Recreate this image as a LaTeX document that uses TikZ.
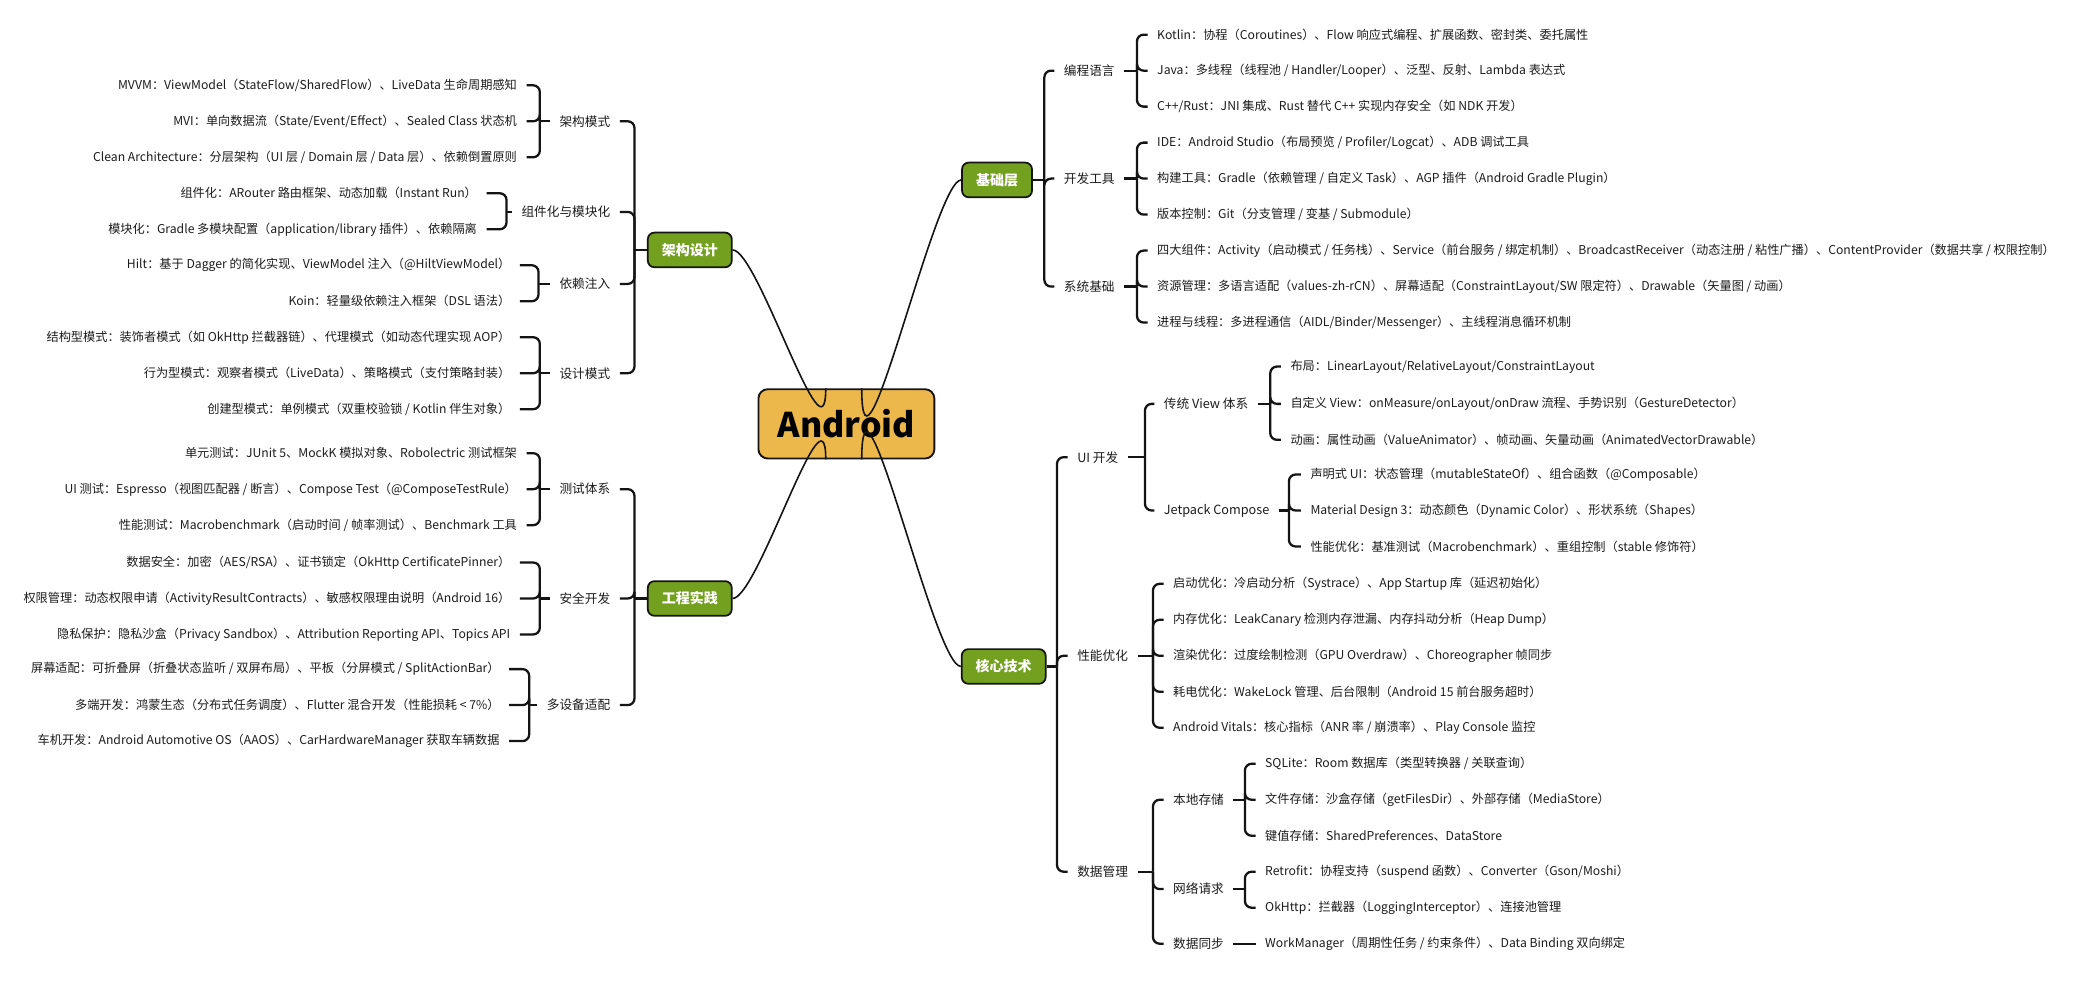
\documentclass[tikz,border=0pt]{standalone}
\usepackage{fontspec}
\setmainfont{Noto Sans CJK SC}
\begin{document}
\begin{tikzpicture}[x=1pt,y=-1pt,
  txt/.style={font=\fontsize{9.15}{11}\selectfont, text=txtc, inner ysep=2pt, inner xsep=7pt},
  leafL/.style={txt, anchor=east},
  leafR/.style={txt, anchor=west},
  mid/.style={txt, font=\fontsize{9.5}{11}\selectfont},
  br/.style={line width=1.7pt, draw=linec, rounded corners=5pt},
  brs/.style={line width=1.7pt, draw=linec},
  curve/.style={line width=1.2pt, draw=linec},
  topic/.style={draw=linec, line width=1.3pt, fill=greenc, rounded corners=5pt, text=white,
     font=\fontsize{10.5}{12}\selectfont\bfseries, minimum height=26pt, inner xsep=10.5pt},
  rootbox/.style={draw=linec, line width=1.4pt, fill=rootc, rounded corners=7pt, text=black,
     font=\fontsize{25.5}{30}\selectfont\bfseries, minimum width=132pt, minimum height=52pt}
]
\definecolor{txtc}{RGB}{28,28,28}
\definecolor{linec}{RGB}{20,20,20}
\definecolor{greenc}{RGB}{116,160,31}
\definecolor{rootc}{RGB}{236,184,75}
\fill[white] (0,0) rectangle (1568,738);
\useasboundingbox (0,0) rectangle (1568,738);

% root and topics
\node[rootbox] (root) at (635,318) {Android};
\node[topic] (jg) at (517.5,187.5) {架构设计};
\node[topic] (gc) at (517.5,449) {工程实践};
\node[topic] (jc) at (748,135) {基础层};
\node[topic] (hx) at (753,500) {核心技术};

\coordinate (rtl) at ([xshift=-15.5pt]root.north);
\coordinate (rtr) at ([xshift=11.5pt]root.north);
\coordinate (rbl) at ([xshift=-15.5pt]root.south);
\coordinate (rbr) at ([xshift=11.5pt]root.south);
\draw[curve] (jg.east) .. controls ([xshift=19pt]jg.east) and ([yshift=-62pt]rtl) .. (rtl);
\draw[curve] (gc.east) .. controls ([xshift=19pt]gc.east) and ([yshift=62pt]rbl) .. (rbl);
\draw[curve] (jc.west) .. controls ([xshift=-20pt]jc.west) and ([yshift=-93pt]rtr) .. (rtr);
\draw[curve] (hx.west) .. controls ([xshift=-20pt]hx.west) and ([yshift=92pt]rbr) .. (rbr);

% ================= LEFT: 架构设计 =================
\node[mid, anchor=east] (m1) at (465,91) {架构模式};
\node[mid, anchor=east] (m2) at (465,159) {组件化与模块化};
\node[mid, anchor=east] (m3) at (465,213) {依赖注入};
\node[mid, anchor=east] (m4) at (465,280) {设计模式};
\coordinate (VJ) at (476,0);
\draw[brs] (jg.west) -- (jg.west -| VJ);
\foreach \c in {m1,m2,m3,m4} \draw[br] (jg.west -| VJ) |- (\c.east);

\node[leafL] (a1) at (395,64) {MVVM：ViewModel（StateFlow/SharedFlow）、LiveData 生命周期感知};
\node[leafL] (a2) at (395,91) {MVI：单向数据流（State/Event/Effect）、Sealed Class 状态机};
\node[leafL] (a3) at (395,118) {Clean Architecture：分层架构（UI 层 / Domain 层 / Data 层）、依赖倒置原则};
\coordinate (V1) at (405,0);
\draw[brs] (m1.west) -- (m1.west -| V1);
\foreach \c in {a1,a2,a3} \draw[br] (m1.west -| V1) |- (\c.east);

\node[leafL] (b1) at (365,145) {组件化：ARouter 路由框架、动态加载（Instant Run）};
\node[leafL] (b2) at (365,172) {模块化：Gradle 多模块配置（application/library 插件）、依赖隔离};
\coordinate (V2) at (380,0);
\draw[brs] (m2.west) -- (m2.west -| V2);
\foreach \c in {b1,b2} \draw[br] (m2.west -| V2) |- (\c.east);

\node[leafL] (c1) at (390,199) {Hilt：基于 Dagger 的简化实现、ViewModel 注入（@HiltViewModel）};
\node[leafL] (c2) at (390,226) {Koin：轻量级依赖注入框架（DSL 语法）};
\coordinate (V3) at (404,0);
\draw[brs] (m3.west) -- (m3.west -| V3);
\foreach \c in {c1,c2} \draw[br] (m3.west -| V3) |- (\c.east);

\node[leafL] (d1) at (390,253) {结构型模式：装饰者模式（如 OkHttp 拦截器链）、代理模式（如动态代理实现 AOP）};
\node[leafL] (d2) at (390,280) {行为型模式：观察者模式（LiveData）、策略模式（支付策略封装）};
\node[leafL] (d3) at (390,307) {创建型模式：单例模式（双重校验锁 / Kotlin 伴生对象）};
\coordinate (V4) at (405,0);
\draw[brs] (m4.west) -- (m4.west -| V4);
\foreach \c in {d1,d2,d3} \draw[br] (m4.west -| V4) |- (\c.east);

% ================= LEFT: 工程实践 =================
\node[mid, anchor=east] (m5) at (465,367) {测试体系};
\node[mid, anchor=east] (m6) at (465,449) {安全开发};
\node[mid, anchor=east] (m7) at (465,529) {多设备适配};
\coordinate (VG) at (476,0);
\draw[brs] (gc.west) -- (gc.west -| VG);
\foreach \c in {m5,m6,m7} \draw[br] (gc.west -| VG) |- (\c.east);

\node[leafL] (e1) at (395,340) {单元测试：JUnit 5、MockK 模拟对象、Robolectric 测试框架};
\node[leafL] (e2) at (395,367) {UI 测试：Espresso（视图匹配器 / 断言）、Compose Test（@ComposeTestRule）};
\node[leafL] (e3) at (395,394) {性能测试：Macrobenchmark（启动时间 / 帧率测试）、Benchmark 工具};
\coordinate (V5) at (405,0);
\draw[brs] (m5.west) -- (m5.west -| V5);
\foreach \c in {e1,e2,e3} \draw[br] (m5.west -| V5) |- (\c.east);

\node[leafL] (f1) at (390,422) {数据安全：加密（AES/RSA）、证书锁定（OkHttp CertificatePinner）};
\node[leafL] (f2) at (390,449) {权限管理：动态权限申请（ActivityResultContracts）、敏感权限理由说明（Android 16）};
\node[leafL] (f3) at (390,476) {隐私保护：隐私沙盒（Privacy Sandbox）、Attribution Reporting API、Topics API};
\coordinate (V6) at (405,0);
\draw[brs] (m6.west) -- (m6.west -| V6);
\foreach \c in {f1,f2,f3} \draw[br] (m6.west -| V6) |- (\c.east);

\node[leafL] (g1) at (382,502) {屏幕适配：可折叠屏（折叠状态监听 / 双屏布局）、平板（分屏模式 / SplitActionBar）};
\node[leafL] (g2) at (382,529) {多端开发：鸿蒙生态（分布式任务调度）、Flutter 混合开发（性能损耗 < 7\%）};
\node[leafL] (g3) at (382,556) {车机开发：Android Automotive OS（AAOS）、CarHardwareManager 获取车辆数据};
\coordinate (V7) at (397,0);
\draw[brs] (m7.west) -- (m7.west -| V7);
\foreach \c in {g1,g2,g3} \draw[br] (m7.west -| V7) |- (\c.east);

% ================= RIGHT: 基础层 =================
\node[mid, anchor=west] (n1) at (791,53) {编程语言};
\node[mid, anchor=west] (n2) at (791,134) {开发工具};
\node[mid, anchor=west] (n3) at (791,215) {系统基础};
\coordinate (VB) at (783.5,0);
\draw[brs] (jc.east) -- (jc.east -| VB);
\foreach \c in {n1,n2,n3} \draw[br] (jc.east -| VB) |- (\c.west);

\node[leafR] (h1) at (861,26) {Kotlin：协程（Coroutines）、Flow 响应式编程、扩展函数、密封类、委托属性};
\node[leafR] (h2) at (861,53) {Java：多线程（线程池 / Handler/Looper）、泛型、反射、Lambda 表达式};
\node[leafR] (h3) at (861,80) {C++/Rust：JNI 集成、Rust 替代 C++ 实现内存安全（如 NDK 开发）};
\coordinate (W1) at (853,0);
\draw[brs] (n1.east) -- (n1.east -| W1);
\foreach \c in {h1,h2,h3} \draw[br] (n1.east -| W1) |- (\c.west);

\node[leafR] (i1) at (861,107) {IDE：Android Studio（布局预览 / Profiler/Logcat）、ADB 调试工具};
\node[leafR] (i2) at (861,134) {构建工具：Gradle（依赖管理 / 自定义 Task）、AGP 插件（Android Gradle Plugin）};
\node[leafR] (i3) at (861,161) {版本控制：Git（分支管理 / 变基 / Submodule）};
\draw[brs] (n2.east) -- (n2.east -| W1);
\foreach \c in {i1,i2,i3} \draw[br] (n2.east -| W1) |- (\c.west);

\node[leafR] (j1) at (861,188) {四大组件：Activity（启动模式 / 任务栈）、Service（前台服务 / 绑定机制）、BroadcastReceiver（动态注册 / 粘性广播）、ContentProvider（数据共享 / 权限控制）};
\node[leafR] (j2) at (861,215) {资源管理：多语言适配（values-zh-rCN）、屏幕适配（ConstraintLayout/SW 限定符）、Drawable（矢量图 / 动画）};
\node[leafR] (j3) at (861,242) {进程与线程：多进程通信（AIDL/Binder/Messenger）、主线程消息循环机制};
\draw[brs] (n3.east) -- (n3.east -| W1);
\foreach \c in {j1,j2,j3} \draw[br] (n3.east -| W1) |- (\c.west);

% ================= RIGHT: 核心技术 =================
\node[mid, anchor=west] (p1) at (801,343) {UI 开发};
\node[mid, anchor=west] (p2) at (801,492) {性能优化};
\node[mid, anchor=west] (p3) at (801,654) {数据管理};
\coordinate (VH) at (793,0);
\draw[brs] (hx.east) -- (hx.east -| VH);
\foreach \c in {p1,p2,p3} \draw[br] (hx.east -| VH) |- (\c.west);

% UI 开发
\node[mid, anchor=west] (q1) at (866,303) {传统 View 体系};
\node[mid, anchor=west] (q2) at (866,383) {Jetpack Compose};
\coordinate (W2) at (859,0);
\draw[brs] (p1.east) -- (p1.east -| W2);
\foreach \c in {q1,q2} \draw[br] (p1.east -| W2) |- (\c.west);

\node[leafR] (r1) at (961,275) {布局：LinearLayout/RelativeLayout/ConstraintLayout};
\node[leafR] (r2) at (961,303) {自定义 View：onMeasure/onLayout/onDraw 流程、手势识别（GestureDetector）};
\node[leafR] (r3) at (961,330) {动画：属性动画（ValueAnimator）、帧动画、矢量动画（AnimatedVectorDrawable）};
\coordinate (W3) at (953,0);
\draw[brs] (q1.east) -- (q1.east -| W3);
\foreach \c in {r1,r2,r3} \draw[br] (q1.east -| W3) |- (\c.west);

\node[leafR] (s1) at (976,356) {声明式 UI：状态管理（mutableStateOf）、组合函数（@Composable）};
\node[leafR] (s2) at (976,383) {Material Design 3：动态颜色（Dynamic Color）、形状系统（Shapes）};
\node[leafR] (s3) at (976,410) {性能优化：基准测试（Macrobenchmark）、重组控制（stable 修饰符）};
\coordinate (W4) at (967,0);
\draw[brs] (q2.east) -- (q2.east -| W4);
\foreach \c in {s1,s2,s3} \draw[br] (q2.east -| W4) |- (\c.west);

% 性能优化
\node[leafR] (t1) at (873,438) {启动优化：冷启动分析（Systrace）、App Startup 库（延迟初始化）};
\node[leafR] (t2) at (873,465) {内存优化：LeakCanary 检测内存泄漏、内存抖动分析（Heap Dump）};
\node[leafR] (t3) at (873,492) {渲染优化：过度绘制检测（GPU Overdraw）、Choreographer 帧同步};
\node[leafR] (t4) at (873,519) {耗电优化：WakeLock 管理、后台限制（Android 15 前台服务超时）};
\node[leafR] (t5) at (873,546) {Android Vitals：核心指标（ANR 率 / 崩溃率）、Play Console 监控};
\coordinate (W5) at (865,0);
\draw[brs] (p2.east) -- (p2.east -| W5);
\foreach \c in {t1,t2,t3,t4,t5} \draw[br] (p2.east -| W5) |- (\c.west);

% 数据管理
\node[mid, anchor=west] (u1) at (873,600) {本地存储};
\node[mid, anchor=west] (u2) at (873,667) {网络请求};
\node[mid, anchor=west] (u3) at (873,708) {数据同步};
\draw[brs] (p3.east) -- (p3.east -| W5);
\foreach \c in {u1,u2,u3} \draw[br] (p3.east -| W5) |- (\c.west);

\node[leafR] (v1) at (942,573) {SQLite：Room 数据库（类型转换器 / 关联查询）};
\node[leafR] (v2) at (942,600) {文件存储：沙盒存储（getFilesDir）、外部存储（MediaStore）};
\node[leafR] (v3) at (942,627) {键值存储：SharedPreferences、DataStore};
\coordinate (W6) at (934,0);
\draw[brs] (u1.east) -- (u1.east -| W6);
\foreach \c in {v1,v2,v3} \draw[br] (u1.east -| W6) |- (\c.west);

\node[leafR] (w1) at (942,654) {Retrofit：协程支持（suspend 函数）、Converter（Gson/Moshi）};
\node[leafR] (w2) at (942,681) {OkHttp：拦截器（LoggingInterceptor）、连接池管理};
\draw[brs] (u2.east) -- (u2.east -| W6);
\foreach \c in {w1,w2} \draw[br] (u2.east -| W6) |- (\c.west);

\node[leafR] (x1) at (942,708) {WorkManager（周期性任务 / 约束条件）、Data Binding 双向绑定};
\draw[brs] (u3.east) -- (x1.west);
\end{tikzpicture}
\end{document}
